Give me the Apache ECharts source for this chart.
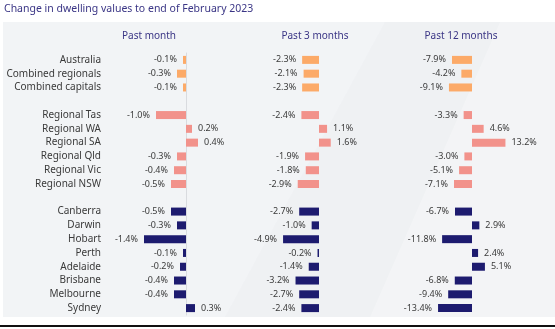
<!DOCTYPE html>
<html>
<head>
<meta charset="utf-8">
<script src="https://cdn.jsdelivr.net/npm/echarts@6/dist/echarts.min.js"></script>
<style>
  html, body { margin: 0; padding: 0; background: #ffffff; }
  #chart { width: 555px; height: 329px; }
</style>
</head>
<body>
<div id="chart"></div>
<script>
// Regions, top to bottom; blank entries are spacer rows between groups
var regions = [
  'Australia', 'Combined regionals', 'Combined capitals', ' ',
  'Regional Tas', 'Regional WA', 'Regional SA', 'Regional Qld', 'Regional Vic', 'Regional NSW', '  ',
  'Canberra', 'Darwin', 'Hobart', 'Perth', 'Adelaide', 'Brisbane', 'Melbourne', 'Sydney'
];
// Group of each row: 0 = national/combined, 1 = regional, 2 = capital city, -1 = spacer
var groups = [0, 0, 0, -1, 1, 1, 1, 1, 1, 1, -1, 2, 2, 2, 2, 2, 2, 2, 2];

// Change in dwelling values (%)
var pastMonth = [-0.1, -0.3, -0.1, null, -1.0, 0.2, 0.4, -0.3, -0.4, -0.5, null,
                 -0.5, -0.3, -1.4, -0.1, -0.2, -0.4, -0.4, 0.3];
var past3Months = [-2.3, -2.1, -2.3, null, -2.4, 1.1, 1.6, -1.9, -1.8, -2.9, null,
                   -2.7, -1.0, -4.9, -0.2, -1.4, -3.2, -2.7, -2.4];
var past12Months = [-7.9, -4.2, -9.1, null, -3.3, 4.6, 13.2, -3.0, -5.1, -7.1, null,
                    -6.7, 2.9, -11.8, 2.4, 5.1, -6.8, -9.4, -13.4];

var panelTitles = ['Past month', 'Past 3 months', 'Past 12 months'];
var chartTitle = 'Change in dwelling values to end of February 2023';

var groupColors = ['#fcaa68', '#f2928b', '#1d1b6f'];
var fontFamily = '"Noto Sans", sans-serif';
var navy = '#3a3585';

function buildData(values) {
  return values.map(function (v, i) {
    if (v === null) return { value: null };
    return {
      value: v,
      itemStyle: { color: groupColors[groups[i]] },
      label: { position: v < 0 ? 'left' : 'right' }
    };
  });
}

// Panel geometry: zero position and scale differ per panel
var panels = [
  { left: 126, width: 90, min: -2, max: 1, values: pastMonth, showNames: true, showZero: true },
  { left: 275, width: 66, min: -6, max: 3, values: past3Months, showNames: false, showZero: false },
  { left: 434, width: 76, min: -15, max: 15, values: past12Months, showNames: false, showZero: false }
];

var grid = [], xAxis = [], yAxis = [], series = [];
panels.forEach(function (p, k) {
  grid.push({ left: p.left, width: p.width, top: 53, height: 262, containLabel: false });
  xAxis.push({
    type: 'value', gridIndex: k, min: p.min, max: p.max,
    show: false, splitLine: { show: false }
  });
  yAxis.push({
    type: 'category', gridIndex: k, data: regions, inverse: true,
    axisTick: { show: false },
    axisLine: { show: p.showZero, onZero: true, lineStyle: { color: '#d9dbdf', width: 1 } },
    axisLabel: {
      show: p.showNames, margin: 25, fontSize: 10, color: '#3a3a3a', fontFamily: fontFamily
    },
    splitLine: { show: false }
  });
  series.push({
    type: 'bar', xAxisIndex: k, yAxisIndex: k,
    data: buildData(p.values),
    barWidth: 8,
    silent: true,
    label: {
      show: true, distance: 6, fontSize: 9, color: '#3a3a3a', fontFamily: fontFamily,
      formatter: function (d) { return d.value.toFixed(1) + '%'; }
    }
  });
});

var headerX = [149, 315, 461];
var graphic = [
  // light panel behind the bars
  { type: 'rect', z: -10, shape: { x: 3, y: 22, width: 552, height: 295 }, style: { fill: '#f2f4f6' } },
  // soft diagonal sheen towards the right
  { type: 'polygon', z: -9, shape: { points: [[385, 22], [555, 22], [555, 317], [225, 317]] },
    style: { fill: 'rgba(225,228,232,0.18)' } },
  { type: 'polygon', z: -9, shape: { points: [[500, 22], [555, 22], [555, 317], [370, 317]] },
    style: { fill: 'rgba(255,255,255,0.25)' } },
  // bottom rule
  { type: 'rect', z: -8, shape: { x: 0, y: 325, width: 555, height: 2 }, style: { fill: '#111111' } },
  { type: 'text', left: 4, top: 4, style: { text: chartTitle, fontSize: 10.5, fill: navy, fontFamily: fontFamily } }
];
panelTitles.forEach(function (t, k) {
  graphic.push({
    type: 'text', x: headerX[k], y: 36,
    style: { text: t, fontSize: 10, fill: navy, fontFamily: fontFamily, align: 'center', verticalAlign: 'middle' }
  });
});

var chart = echarts.init(document.getElementById('chart'), null, { renderer: 'canvas' });
chart.setOption({
  animation: false,
  backgroundColor: '#ffffff',
  grid: grid,
  xAxis: xAxis,
  yAxis: yAxis,
  series: series,
  graphic: graphic
});
</script>
</body>
</html>
